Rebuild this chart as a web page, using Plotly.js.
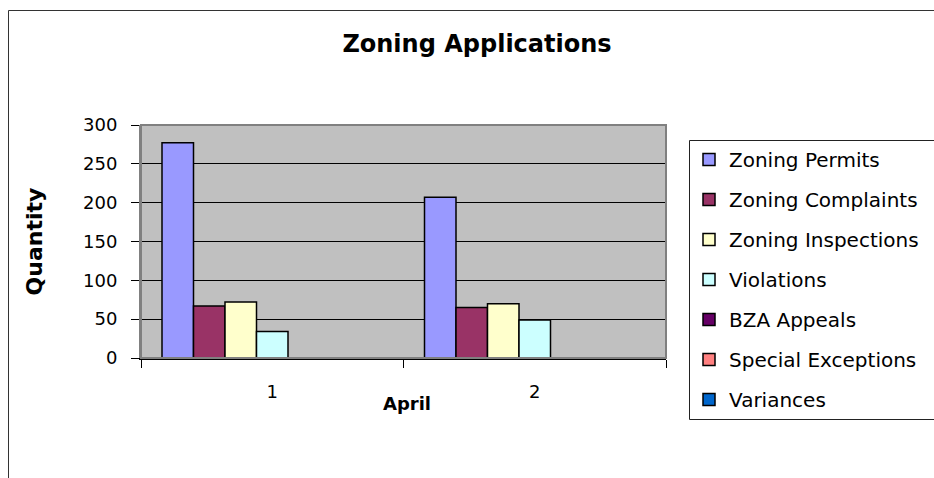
<!DOCTYPE html>
<html>
<head>
<meta charset="utf-8">
<script src="https://cdn.plot.ly/plotly-3.0.1.min.js"></script>
<style>
  html, body { margin: 0; padding: 0; background: #fff; overflow: hidden; }
  #chart { width: 934px; height: 478px; }
</style>
</head>
<body>
<div id="chart"></div>
<script>
// ---- data ----
const categories = ["1", "2"];
const seriesNames = ["Zoning Permits", "Zoning Complaints", "Zoning Inspections", "Violations", "BZA Appeals", "Special Exceptions", "Variances"];
const zoningPermits = [277, 207];
const zoningComplaints = [67, 65];
const zoningInspections = [72, 70];
const violations = [34, 49];
const bzaAppeals = [0, 0];
const specialExceptions = [0, 0];
const variances = [0, 0];
const seriesColors = ["#9999FF", "#993366", "#FFFFCC", "#CCFFFF", "#660066", "#FF8080", "#0066CC"];
const yTickValues = [0, 50, 100, 150, 200, 250, 300];
const chartTitle = "Zoning Applications";
const xTitle = "April";
const yTitle = "Quantity";

const seriesValues = [zoningPermits, zoningComplaints, zoningInspections, violations, bzaAppeals, specialExceptions, variances];

const FONT = "DejaVu Sans, Liberation Sans, Arial, sans-serif";

const traces = seriesNames.map((name, i) => ({
  type: "bar",
  name: name,
  x: categories,
  y: seriesValues[i],
  legendgroup: "g" + i,
  marker: { color: seriesColors[i], line: { color: "#000", width: 1.5 } },
  hoverinfo: "name+y"
}));

const W = 934, H = 478;
const M = { l: 141, r: 268, t: 125, b: 120, autoexpand: false };
const pw = W - M.l - M.r, ph = H - M.t - M.b;
const px = v => (v - M.l) / pw;         // pixel x -> paper x
const py = v => (H - M.b - v) / ph;     // pixel y -> paper y

const layout = {
  width: W, height: H,
  margin: M,
  paper_bgcolor: "#FFFFFF",
  plot_bgcolor: "#C0C0C0",
  font: { family: FONT, size: 18, color: "#000" },
  title: {
    text: "<b>" + chartTitle + "</b>",
    font: { family: FONT, size: 24, color: "#000" },
    xref: "container", x: 477 / W, xanchor: "center",
    yref: "container", y: 1 - 44 / H, yanchor: "middle"
  },
  barmode: "group",
  bargap: 0.16,
  bargroupgap: 0,
  showlegend: true,
  legend: {
    x: px(689), xanchor: "left",
    y: py(140), yanchor: "top",
    bgcolor: "rgba(0,0,0,0)",
    borderwidth: 0,
    font: { family: FONT, size: 20, color: "#000" },
    tracegroupgap: 11,
    maxheight: 420
  },
  xaxis: {
    type: "category",
    showline: true, linecolor: "#000", linewidth: 1.5,
    ticks: "outside", tickson: "boundaries", ticklen: 8, tickcolor: "#000", tickwidth: 1,
    ticklabelstandoff: 17,
    showgrid: false, zeroline: false,
    tickfont: { family: FONT, size: 18, color: "#000" },
    automargin: false,
    fixedrange: true
  },
  yaxis: {
    range: [0, 300],
    tickvals: yTickValues,
    showline: true, linecolor: "#808080", linewidth: 2,
    ticks: "outside", ticklen: 8, tickcolor: "#000", tickwidth: 1,
    ticklabelstandoff: 10,
    showgrid: true, gridcolor: "#000", gridwidth: 1,
    zeroline: false,
    tickfont: { family: FONT, size: 18, color: "#000" },
    title: { text: "<b>" + yTitle + "</b>", font: { family: FONT, size: 22, color: "#000" }, standoff: 34 },
    automargin: false,
    fixedrange: true
  },
  annotations: [
    { text: "<b>" + xTitle + "</b>", xref: "paper", yref: "paper", x: px(407), y: py(403),
      xanchor: "center", yanchor: "middle", showarrow: false,
      font: { family: FONT, size: 18, color: "#000" } }
  ],
  shapes: [
    // plot area border (grey)
    { type: "rect", xref: "paper", yref: "paper", x0: 0, x1: 1, y0: 0, y1: 1,
      line: { color: "#808080", width: 2 }, fillcolor: "rgba(0,0,0,0)", layer: "above" },
    // legend box (runs off the right edge, as in the reference)
    { type: "rect", xref: "paper", yref: "paper", x0: px(689.5), x1: px(W + 20), y0: py(140.5), y1: py(419.5),
      line: { color: "#222", width: 1 }, fillcolor: "#FFFFFF", layer: "above" },
    // outer chart border (left and top edges visible)
    { type: "line", xref: "paper", yref: "paper", x0: px(8.5), x1: px(8.5), y0: py(10.5), y1: py(H + 20),
      line: { color: "#333", width: 1 } },
    { type: "line", xref: "paper", yref: "paper", x0: px(8.5), x1: px(W + 20), y0: py(10.5), y1: py(10.5),
      line: { color: "#333", width: 1 } }
  ]
};

Plotly.newPlot("chart", traces, layout, { displayModeBar: false, staticPlot: true });
</script>
</body>
</html>
